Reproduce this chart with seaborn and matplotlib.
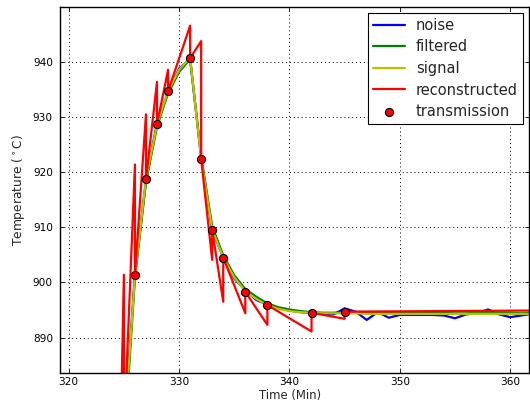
import matplotlib
matplotlib.use("Agg")
import matplotlib.pyplot as plt
import seaborn as sns
import pandas as pd

# ---- data ----
time = list(range(324, 363))
noise = [804, 872.5, 901.5, 918.5, 929.0, 934.5, 938.8, 940.6, 922.6, 909.4,
         904.6, 900.7, 898.6, 896.8, 896.0, 895.3, 894.9, 894.6, 894.5, 894.3,
         894.2, 895.3, 894.7, 893.2, 894.6, 893.6, 894.1, 894.1, 894.1, 894.1,
         894.0, 893.5, 894.2, 894.4, 895.1, 894.2, 893.7, 894.0, 894.3]
filtered = [806, 870, 900.8, 918.2, 928.3, 934.3, 938.2, 940.5, 922.9, 910.2,
            904.9, 901.3, 898.8, 897.4, 896.2, 895.5, 895.1, 894.8, 894.6, 894.5,
            894.5, 894.6, 894.6, 894.5, 894.5, 894.5, 894.5, 894.5, 894.5, 894.5,
            894.5, 894.4, 894.4, 894.5, 894.6, 894.5, 894.5, 894.4, 894.5]
signal = [805, 872, 901.3, 918.8, 928.7, 934.7, 938.6, 940.8, 922.4, 909.6,
          904.5, 900.9, 898.4, 897.0, 895.9, 895.2, 894.8, 894.6, 894.5, 894.4,
          894.4, 894.4, 894.4, 894.3, 894.3, 894.3, 894.3, 894.3, 894.3, 894.3,
          894.3, 894.3, 894.3, 894.3, 894.3, 894.3, 894.3, 894.3, 894.3]
recon_t = [323, 324, 325, 325, 326, 326, 327, 327, 328, 328, 329, 329, 331, 331,
           332, 332, 333, 333, 334, 334, 336, 336, 338, 338, 342, 342, 345, 345, 362]
recon_v = [760, 805, 901.4, 872, 921.4, 901.3, 930.5, 918.7, 936.4, 928.7, 938.6,
           934.7, 946.6, 940.7, 943.8, 922.4, 904.1, 909.5, 896.5, 904.5, 894.4,
           898.3, 892.3, 895.9, 891.1, 894.5, 893.4, 894.7, 894.9]
trans_t = [325, 326, 327, 328, 329, 331, 332, 333, 334, 336, 338, 342, 345]
trans_v = [872, 901.3, 918.7, 928.7, 934.7, 940.7, 922.4, 909.5, 904.5, 898.3,
           895.9, 894.5, 894.7]
xticks = [320, 330, 340, 350, 360]
yticks = [890, 900, 910, 920, 930, 940]

sns.set_theme(style="white")
plt.rcParams['font.family'] = ['DejaVu Sans']

fig = plt.figure(figsize=(5.30, 4.07), dpi=100)
ax = fig.add_axes([0.113, 0.084, 0.885, 0.899])

df_curves = pd.DataFrame({"t": time, "noise": noise, "filtered": filtered, "signal": signal})
df_recon = pd.DataFrame({"t": recon_t, "v": recon_v})
df_trans = pd.DataFrame({"t": trans_t, "v": trans_v})

lw = 1.6
sns.lineplot(data=df_curves, x="t", y="noise", ax=ax, color=(0, 0, 1), lw=lw,
             label="noise", estimator=None, sort=False)
sns.lineplot(data=df_curves, x="t", y="filtered", ax=ax, color=(0, 0.5, 0), lw=lw,
             label="filtered", estimator=None, sort=False)
sns.lineplot(data=df_curves, x="t", y="signal", ax=ax, color=(0.75, 0.75, 0), lw=lw,
             label="signal", estimator=None, sort=False)
sns.lineplot(data=df_recon, x="t", y="v", ax=ax, color=(1, 0, 0), lw=lw,
             label="reconstructed", estimator=None, sort=False)
sns.scatterplot(data=df_trans, x="t", y="v", ax=ax, color=(1, 0, 0), s=34,
                edgecolor="black", linewidth=0.8, label="transmission", zorder=5)

ax.set_xlim(319.2, 361.7)
ax.set_ylim(883.6, 950)
ax.set_xticks(xticks)
ax.set_yticks(yticks)
ax.grid(True, color="black", linestyle=(0, (1, 3)), linewidth=0.7)
ax.tick_params(direction="in", length=3, width=0.6, labelsize=7.6,
               top=True, right=True, bottom=True, left=True, colors="black")
ax.tick_params(axis="y", pad=5)
ax.tick_params(axis="x", pad=3)
for sp in ax.spines.values():
    sp.set_color("black")
    sp.set_linewidth(1.0)
ax.set_xlabel("Time (Min)", fontsize=8.4, labelpad=2)
ax.set_ylabel("Temperature ($^\\circ$C)", fontsize=8.8, labelpad=4)
ax.xaxis.set_label_coords(0.49, -0.045)

leg = ax.legend(loc="upper right", fontsize=10.5, frameon=True, fancybox=False,
                edgecolor="black", framealpha=1, handlelength=2.2,
                labelspacing=0.45, borderaxespad=0.4, handletextpad=0.75,
                borderpad=0.35)
leg.get_frame().set_linewidth(0.8)

fig.savefig("out.png", dpi=100)
